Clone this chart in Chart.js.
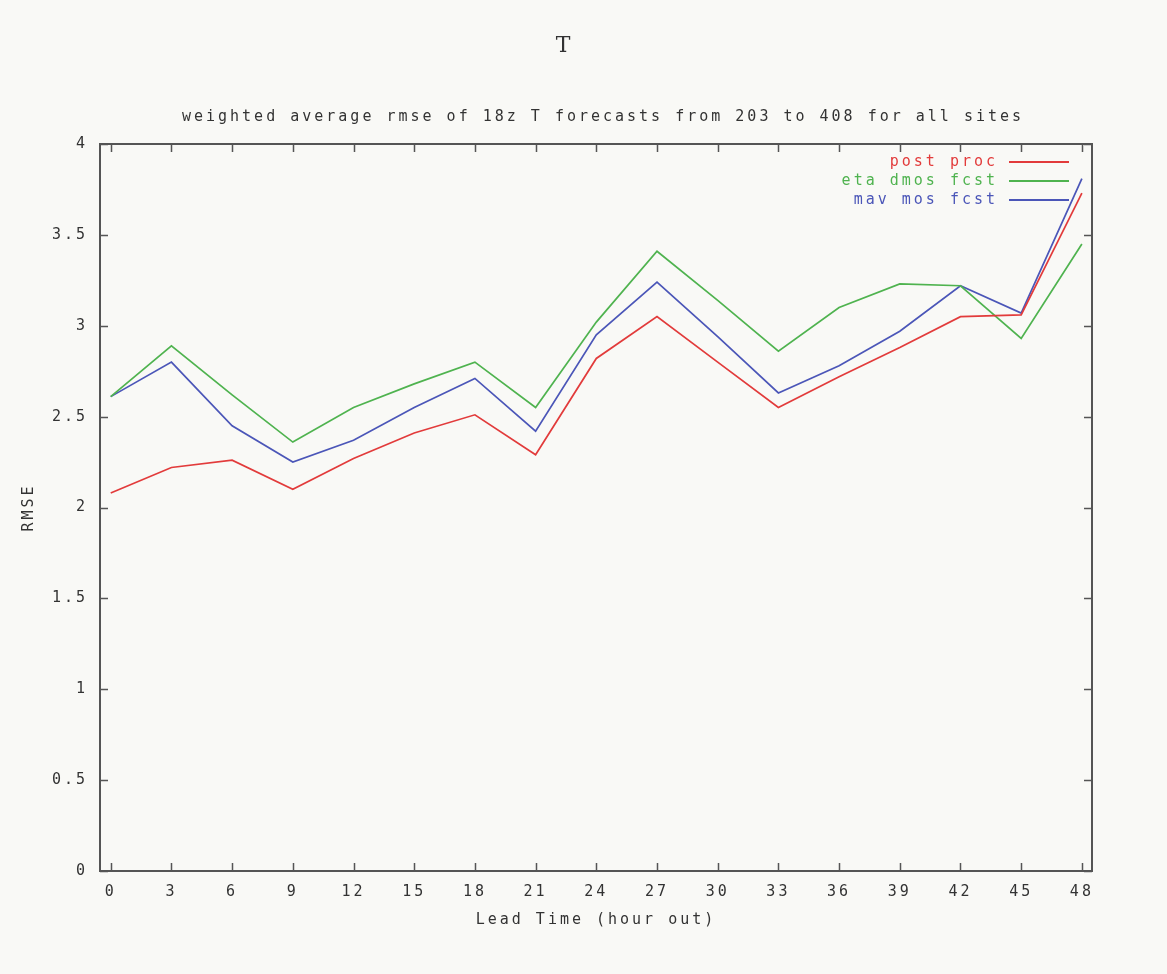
<!DOCTYPE html>
<html>
<head>
<meta charset="utf-8">
<script src="https://cdn.jsdelivr.net/npm/chart.js@4/dist/chart.umd.min.js"></script>
<style>
  html, body { margin: 0; padding: 0; background: #f9f9f6; }
  #wrap { width: 1167px; height: 974px; position: relative; }
</style>
</head>
<body>
<div id="wrap"><canvas id="rmseChart"></canvas></div>
<script>
// lead time (hours) and RMSE per forecast source
const hours = [0, 3, 6, 9, 12, 15, 18, 21, 24, 27, 30, 33, 36, 39, 42, 45, 48];
const postProc = [2.08, 2.22, 2.26, 2.10, 2.27, 2.41, 2.51, 2.29, 2.82, 3.05, 2.80, 2.55, 2.72, 2.88, 3.05, 3.06, 3.73];
const etaDmos  = [2.61, 2.89, 2.62, 2.36, 2.55, 2.68, 2.80, 2.55, 3.02, 3.41, 3.14, 2.86, 3.10, 3.23, 3.22, 2.93, 3.45];
const mavMos   = [2.61, 2.80, 2.45, 2.25, 2.37, 2.55, 2.71, 2.42, 2.95, 3.24, 2.94, 2.63, 2.78, 2.97, 3.22, 3.07, 3.81];
const seriesNames = ['post proc', 'eta dmos fcst', 'mav mos fcst'];
const seriesColors = ['#e23b3b', '#4fb34f', '#4b56b8'];
const xTicks = [0, 3, 6, 9, 12, 15, 18, 21, 24, 27, 30, 33, 36, 39, 42, 45, 48];

const MONO = "'DejaVu Sans Mono', monospace";
const INK = '#333333';

function toPoints(vals) {
    return hours.map((h, i) => ({ x: h, y: vals[i] }));
}

// wide, pixel-font look: spread the letters out
const spacingPlugin = {
    id: 'spacing',
    beforeLayout(chart) { chart.ctx.letterSpacing = '3px'; },
    beforeDraw(chart) { chart.ctx.letterSpacing = '3px'; }
};

// frame, inward ticks on all four sides, titles and legend
const decorPlugin = {
    id: 'decor',
    afterDraw(chart) {
        const { ctx, chartArea: a, scales } = chart;
        ctx.save();
        ctx.strokeStyle = '#555';
        ctx.lineWidth = 2;
        ctx.strokeRect(a.left, a.top, a.right - a.left, a.bottom - a.top);

        ctx.lineWidth = 1.5;
        ctx.beginPath();
        scales.x.ticks.forEach(t => {
            const px = Math.round(scales.x.getPixelForValue(t.value)) + 0.5;
            ctx.moveTo(px, a.bottom); ctx.lineTo(px, a.bottom - 8);
            ctx.moveTo(px, a.top); ctx.lineTo(px, a.top + 8);
        });
        scales.y.ticks.forEach(t => {
            const py = Math.round(scales.y.getPixelForValue(t.value)) + 0.5;
            ctx.moveTo(a.left, py); ctx.lineTo(a.left + 8, py);
            ctx.moveTo(a.right, py); ctx.lineTo(a.right - 8, py);
        });
        ctx.stroke();

        // main title
        ctx.letterSpacing = '0px';
        ctx.fillStyle = INK;
        ctx.textAlign = 'center';
        ctx.textBaseline = 'middle';
        ctx.font = "22px 'DejaVu Serif', serif";
        ctx.fillText('T', 563, 46);

        // subtitle
        ctx.letterSpacing = '3px';
        ctx.font = '15px ' + MONO;
        ctx.fillText('weighted average rmse of 18z T forecasts from 203 to 408 for all sites', 603, 117);

        // legend: text right-aligned, then a line sample
        ctx.textAlign = 'right';
        chart.data.datasets.forEach((ds, i) => {
            const y = 162 + i * 19;
            ctx.fillStyle = ds.borderColor;
            ctx.fillText(ds.label, 998, y);
            ctx.strokeStyle = ds.borderColor;
            ctx.lineWidth = 2;
            ctx.beginPath();
            ctx.moveTo(1009, y); ctx.lineTo(1069, y);
            ctx.stroke();
        });
        ctx.restore();
    }
};

const bgPlugin = {
    id: 'bg',
    beforeDraw(chart) {
        const ctx = chart.ctx;
        ctx.save();
        ctx.fillStyle = '#f9f9f6';
        ctx.fillRect(0, 0, chart.width, chart.height);
        ctx.restore();
    }
};

const datasets = [postProc, etaDmos, mavMos].map((vals, i) => ({
    label: seriesNames[i],
    data: toPoints(vals),
    borderColor: seriesColors[i],
    backgroundColor: seriesColors[i],
    borderWidth: 1.7,
    pointRadius: 0,
    tension: 0,
    fill: false
}));

new Chart(document.getElementById('rmseChart'), {
    type: 'line',
    data: { datasets: datasets },
    options: {
        responsive: true,
        maintainAspectRatio: false,
        animation: false,
        layout: { padding: { left: 0, top: 144, right: 75, bottom: 0 } },
        plugins: {
            legend: { display: false },
            title: { display: false },
            tooltip: { enabled: false }
        },
        scales: {
            x: {
                type: 'linear',
                min: -0.53,
                max: 48.5,
                afterFit: s => { s.height = 103; },
                afterBuildTicks: s => { s.ticks = xTicks.map(v => ({ value: v })); },
                grid: { display: false, drawTicks: false },
                border: { display: false },
                ticks: { color: INK, font: { family: MONO, size: 15 }, padding: 12, maxRotation: 0, autoSkip: false },
                title: { display: true, text: 'Lead Time (hour out)', color: INK, font: { family: MONO, size: 15 }, padding: { top: 0, bottom: 45 } }
            },
            y: {
                min: 0,
                max: 4,
                afterFit: s => { s.width = 100; },
                grid: { display: false, drawTicks: false },
                border: { display: false },
                ticks: { stepSize: 0.5, color: INK, font: { family: MONO, size: 15 }, padding: 12, callback: v => String(v) },
                title: { display: true, text: 'RMSE', color: INK, font: { family: MONO, size: 15 }, padding: { top: 20, bottom: 0 } }
            }
        }
    },
    plugins: [bgPlugin, spacingPlugin, decorPlugin]
});
</script>
</body>
</html>
